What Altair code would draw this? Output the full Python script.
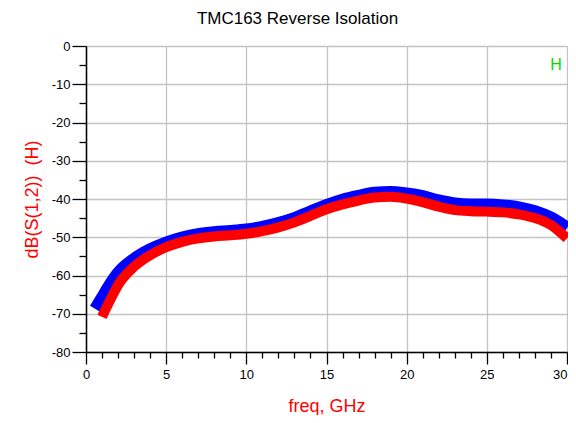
import altair as alt
import pandas as pd

# Blue trace (upper)
blue_freq = [0.6, 1, 1.5, 2, 3, 4, 5, 6, 7, 8, 9, 10, 11, 12, 13, 14, 15, 16, 17, 18, 19, 20,
             21, 22, 23, 24, 25, 26, 27, 28, 29, 30]
blue_db = [-68.8, -66, -62.5, -59.5, -55.8, -53.3, -51.5, -50.2, -49.3, -48.8, -48.5, -48.1,
           -47.4, -46.4, -45.1, -43.4, -41.7, -40.3, -39.3, -38.5, -38.3, -38.7, -39.4, -40.5,
           -41.3, -41.6, -41.6, -41.8, -42.3, -43.3, -45.0, -47.6]

# Red trace (lower)
red_freq = [1, 1.5, 2, 3, 4, 5, 6, 7, 8, 9, 10, 11, 12, 13, 14, 15, 16, 17, 18, 19, 20,
            21, 22, 23, 24, 25, 26, 27, 28, 29, 30]
red_db = [-70.8, -66.5, -62.5, -57.7, -54.7, -52.6, -51.2, -50.3, -49.8, -49.5, -49.1, -48.4,
          -47.4, -46.1, -44.4, -42.7, -41.4, -40.4, -39.6, -39.4, -39.9, -40.8, -42.0, -42.9,
          -43.2, -43.3, -43.5, -44.0, -45.0, -46.8, -50.3]

x_ticks = list(range(0, 31))
y_ticks = list(range(-80, 1, 5))

blue = pd.DataFrame({"freq": blue_freq, "db": blue_db})
red = pd.DataFrame({"freq": red_freq, "db": red_db})

FONT = "Liberation Sans"

x_enc = alt.X(
    "freq:Q",
    scale=alt.Scale(domain=[0, 30], nice=False, zero=False),
    axis=alt.Axis(
        values=x_ticks,
        tickCount=200,
        labelOverlap=False,
        title="freq, GHz",
        titleColor="red",
        titleFontSize=18,
        titleFontWeight="normal",
        titleFont=FONT,
        titlePadding=16,
        labelExpr="datum.value % 5 === 0 ? '' + datum.value : ''",
        labelFont=FONT,
        labelFontSize=13,
        labelColor="black",
        labelPadding=4,
        labelAlign={"condition": {"test": "datum.value === 30", "value": "right"}, "value": "center"},
        tickSize={"condition": {"test": "datum.value % 5 === 0", "value": 12}, "value": 6},
        tickColor="black",
        tickWidth=1.3,
        domainColor="black",
        domainWidth=1.5,
        grid=True,
        gridColor="#c4c4c4",
        gridWidth=1.3,
        gridOpacity={"condition": {"test": "datum.value % 5 === 0", "value": 1}, "value": 0},
        labelFlush=False,
    ),
)

y_enc = alt.Y(
    "db:Q",
    scale=alt.Scale(domain=[-80, 0], nice=False, zero=False),
    axis=alt.Axis(
        values=y_ticks,
        tickCount=200,
        labelOverlap=False,
        title="dB(S(1,2))\u00a0\u00a0(H)",
        titleColor="red",
        titleFontSize=18,
        titleFontWeight="normal",
        titleFont=FONT,
        titlePadding=10,
        labelExpr="datum.value % 10 === 0 ? '' + datum.value : ''",
        labelFont=FONT,
        labelFontSize=13,
        labelColor="black",
        labelPadding=2,
        tickSize={"condition": {"test": "datum.value % 10 === 0", "value": 14}, "value": 7},
        tickColor="black",
        tickWidth=1.3,
        domainColor="black",
        domainWidth=1.5,
        grid=True,
        gridColor="#c4c4c4",
        gridWidth=1.3,
        gridOpacity={"condition": {"test": "datum.value % 10 === 0", "value": 1}, "value": 0},
        labelFlush=False,
    ),
)

blue_line = alt.Chart(blue).mark_line(color="#0000ff", strokeWidth=13, interpolate="monotone").encode(
    x=x_enc, y=y_enc
)
red_line = alt.Chart(red).mark_line(color="#ff0000", strokeWidth=10, interpolate="monotone").encode(
    x="freq:Q", y="db:Q"
)

label = alt.Chart(pd.DataFrame({"t": ["H"]})).mark_text(
    color="#00dd00", fontSize=16, font=FONT, align="center", baseline="middle"
).encode(x=alt.value(470), y=alt.value(19), text="t:N")

chart = (
    alt.layer(blue_line, red_line, label)
    .properties(
        width=481,
        height=306,
        autosize=alt.AutoSizeParams(type="none"),
        padding={"left": 78, "top": 38, "right": 1, "bottom": 63},
        title=alt.TitleParams(
            "TMC163 Reverse Isolation",
            font=FONT,
            fontSize=17,
            fontWeight="normal",
            color="black",
            offset=12,
            dx=-29,
            anchor="middle",
        ),
    )
    .configure_view(stroke="#808080", strokeWidth=2)
    .configure(background="white")
)

chart.save("out.html", embed_options={"renderer": "svg", "actions": False})
